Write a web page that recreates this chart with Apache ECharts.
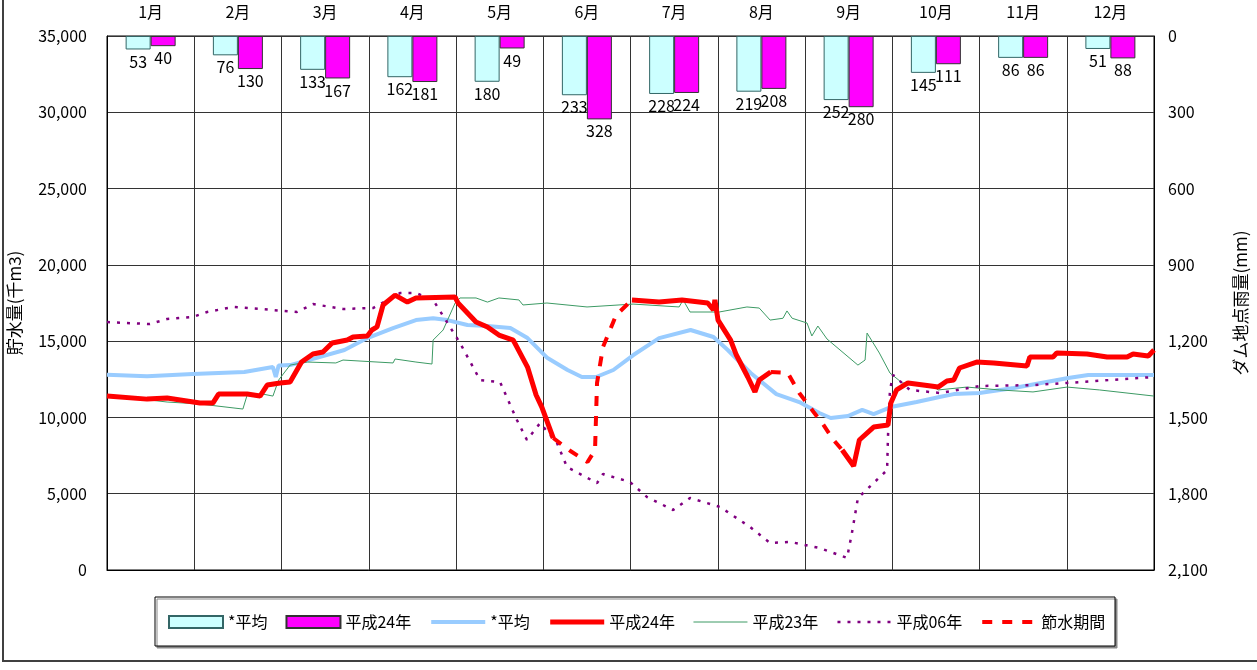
<!DOCTYPE html>
<html>
<head>
<meta charset="utf-8">
<script src="https://cdn.jsdelivr.net/npm/echarts/dist/echarts.min.js"></script>
<style>
  html, body { margin: 0; padding: 0; background: #fff; }
  #chart { width: 1257px; height: 670px; }
</style>
</head>
<body>
<div id="chart"></div>
<script>
// 月
const months = ["1月", "2月", "3月", "4月", "5月", "6月", "7月", "8月", "9月", "10月", "11月", "12月"];
// 月別雨量 (mm)
const rainAvg = [53, 76, 133, 162, 180, 233, 228, 219, 252, 145, 86, 51];
const rainH24 = [40, 130, 167, 181, 49, 328, 224, 208, 280, 111, 86, 88];

// 貯水量 (千m3)  [日, 値]
const storageAvg = [
  [0, 12800], [14, 12700], [30, 12850], [48, 12980], [58, 13300], [59, 12650], [60, 13400],
  [64, 13430], [73, 13890], [83, 14420], [91, 15200], [100, 15860], [108, 16380], [114, 16500],
  [119, 16380], [126, 16060], [133, 15990], [141, 15860], [147, 15200], [154, 13890], [161, 13110],
  [166, 12650], [171, 12650], [177, 13110], [184, 14090], [193, 15200], [204, 15730], [212, 15270],
  [217, 14420], [225, 12910], [234, 11530], [242, 11010], [249, 10290], [253, 9960], [259, 10090],
  [264, 10490], [268, 10220], [274, 10680], [283, 11010], [291, 11340], [296, 11530], [305, 11600],
  [317, 11930], [336, 12580], [343, 12780], [366, 12780]
];
const storageH24a = [
  [0, 11400], [14, 11200], [21, 11270], [32.5, 10940], [37, 10940], [39, 11530], [49, 11530],
  [53.5, 11400], [56, 12120], [60.5, 12260], [64, 12320], [68, 13630], [72, 14160], [75.5, 14290],
  [78.7, 14880], [84, 15070], [86, 15270], [91, 15340], [92.6, 15730], [94.4, 15930], [96.5, 17370],
  [100.7, 18020], [105, 17560], [108, 17830], [121.7, 17890], [122.7, 17500], [129, 16250],
  [133, 15930], [137, 15400], [142, 15070], [147, 13300], [150, 11470], [152, 10680], [156, 8650]
];
const storageH24b = [
  [183.5, 17700], [193, 17560], [201, 17700], [210, 17500], [212, 17040], [212.5, 17700],
  [213.6, 16380], [218, 15070], [220, 14090], [224, 12650], [226.5, 11670], [228, 12450], [232, 12980]
];
const storageH24c = [
  [257, 7860], [261, 6820], [263, 8520], [268, 9370], [273, 9500], [274, 10940], [276, 11800],
  [280, 12260], [288, 12060], [290.5, 11990], [293.6, 12390], [296, 12450], [298, 13240],
  [304, 13630], [310, 13570], [321.6, 13370], [322.6, 13960], [330.7, 13960], [332, 14220],
  [342.6, 14160], [349.6, 13960], [356.6, 13960], [358.7, 14160], [364, 14030], [366, 14420]
];
const savingA = [
  [156, 8650], [162, 7800], [168, 7080], [170.6, 7860], [171.3, 12260], [173.4, 14620],
  [178, 16710], [183.5, 17700]
];
const savingB = [
  [232, 12980], [238, 12910], [242, 11600], [247, 10360], [250, 9630], [254, 8520], [257, 7860]
];
const storageH23 = [
  [0, 11470], [21, 11010], [32.5, 10880], [47.5, 10550], [49, 11470], [54.5, 11530], [58, 11400],
  [60, 12450], [64, 13430], [70, 13630], [80, 13570], [82.5, 13760], [100, 13570], [100.7, 13830],
  [108, 13630], [113.6, 13500], [114, 15070], [117.5, 15730], [121.7, 17500], [123.4, 17830],
  [129, 17830], [133, 17560], [137, 17830], [144, 17700], [145.4, 17370], [153.8, 17500],
  [167.8, 17240], [183.9, 17430], [200, 17240], [201.4, 17700], [203.8, 16910], [214, 16910],
  [223.7, 17240], [228, 17170], [231.8, 16380], [236.3, 16500], [237.7, 16980], [239.5, 16500],
  [244.7, 16190], [246.4, 15340], [248.5, 15990], [251.7, 15140], [262.5, 13430], [265, 13760],
  [265.7, 15530], [270, 14220], [273.7, 12910], [278, 12260], [288.4, 12120], [290.5, 11800],
  [300.6, 11990], [312, 11800], [323.7, 11670], [335.6, 11990], [347, 11800], [366, 11400]
];
const storageH06 = [
  [0, 16250], [15, 16120], [21, 16450], [30, 16580], [35, 16910], [44, 17240], [53.5, 17110],
  [66.4, 16910], [72, 17430], [82.5, 17110], [93, 17170], [102.4, 18150], [108, 18150],
  [114, 17700], [123.4, 14880], [130.4, 12450], [137.4, 12320], [143.3, 9830], [146.8, 8520],
  [151.4, 9630], [157.3, 8320], [160.8, 6750], [171.3, 5700], [173.4, 6290], [182.8, 5770],
  [188.8, 4780], [197.9, 3930], [203.8, 4720], [214.3, 4130], [224.8, 2820], [231.8, 1770],
  [238.8, 1840], [249.2, 1440], [258.7, 790], [260.4, 2420], [262.5, 4720], [270.2, 6100],
  [272.7, 6550], [273, 8720], [273.7, 11800], [274.8, 12780], [280.7, 11800], [291.2, 11600],
  [305.2, 12060], [323.7, 12120], [335.6, 12260], [366, 12650]
];

const font = "'Noto Sans CJK JP', sans-serif";
const chart = echarts.init(document.getElementById("chart"));

function storageLine(name, data, color, width, type, z) {
  return {
    name: name,
    type: "line",
    xAxisIndex: 1,
    yAxisIndex: 0,
    data: data,
    symbol: "none",
    smooth: false,
    z: z,
    lineStyle: { color: color, width: width, type: type },
    itemStyle: { color: color }
  };
}

// 凡例の線アイコン: 記号なし、線幅は系列と同じ
function lineLegend(name) {
  return { name: name, itemStyle: { opacity: 0 }, lineStyle: { width: "inherit" } };
}

const option = {
  animation: false,
  textStyle: { fontFamily: font, color: "#000" },
  graphic: [
    {
      type: "rect",
      z: 0,
      shape: { x: 3, y: -5, width: 1262, height: 666 },
      style: { fill: "none", stroke: "#404040", lineWidth: 2 }
    },
    {
      type: "rect",
      z: 0,
      shape: { x: 155, y: 597, width: 960, height: 49 },
      style: {
        fill: "#fff", stroke: "#000", lineWidth: 1,
        shadowColor: "#888", shadowOffsetX: 2, shadowOffsetY: 2, shadowBlur: 0
      }
    }
  ],
  grid: {
    left: 107, right: 103, top: 36, bottom: 100,
    show: true, borderColor: "#000", borderWidth: 1,
    outerBoundsMode: "none"
  },
  legend: {
    left: 163,
    top: 609,
    itemWidth: 54,
    itemHeight: 12,
    itemGap: 18,
    textStyle: { fontSize: 16, fontFamily: font, color: "#000" },
    formatter: name => name.trim(),
    data: [
      { name: "*平均", icon: "rect" },
      { name: "平成24年", icon: "rect" },
      lineLegend("*平均 "),
      lineLegend("平成24年 "),
      lineLegend("平成23年"),
      lineLegend("平成06年"),
      lineLegend("節水期間")
    ]
  },
  xAxis: [
    {
      type: "category",
      position: "top",
      data: months,
      axisTick: { show: false },
      axisLine: { lineStyle: { color: "#000" } },
      axisLabel: { fontSize: 16, color: "#000", margin: 16, fontFamily: font },
      splitLine: { show: true, lineStyle: { color: "#333", width: 1 } }
    },
    {
      type: "value",
      min: 0,
      max: 366,
      show: false
    }
  ],
  yAxis: [
    {
      type: "value",
      min: 0,
      max: 35000,
      interval: 5000,
      position: "left",
      name: "貯水量(千m3)",
      nameLocation: "middle",
      nameGap: 84,
      nameRotate: 90,
      nameTextStyle: { fontSize: 17, color: "#000", fontFamily: font },
      axisLine: { show: true, lineStyle: { color: "#000" } },
      axisTick: { show: false },
      axisLabel: { fontSize: 16, color: "#000", margin: 20, fontFamily: font },
      splitLine: { show: true, lineStyle: { color: "#333", width: 1 } }
    },
    {
      type: "value",
      min: 0,
      max: 2100,
      interval: 300,
      inverse: true,
      position: "right",
      name: "ダム地点雨量(mm)",
      nameLocation: "middle",
      nameGap: 78,
      nameRotate: 90,
      nameTextStyle: { fontSize: 17, color: "#000", fontFamily: font },
      axisLine: { show: true, lineStyle: { color: "#000" } },
      axisTick: { show: false },
      axisLabel: { fontSize: 16, color: "#000", margin: 14, fontFamily: font },
      splitLine: { show: false }
    }
  ],
  series: [
    {
      name: "*平均",
      type: "bar",
      xAxisIndex: 0,
      yAxisIndex: 1,
      data: rainAvg,
      barWidth: 25,
      barGap: "0%",
      itemStyle: { color: "#ccffff", borderColor: "#336666", borderWidth: 1 },
      label: { show: true, position: "bottom", distance: 4, fontSize: 16, color: "#000", fontFamily: font }
    },
    {
      name: "平成24年",
      type: "bar",
      xAxisIndex: 0,
      yAxisIndex: 1,
      data: rainH24,
      barWidth: 25,
      barGap: "0%",
      itemStyle: { color: "#ff00ff", borderColor: "#333", borderWidth: 1 },
      label: { show: true, position: "bottom", distance: 4, fontSize: 16, color: "#000", fontFamily: font }
    },
    storageLine("*平均 ", storageAvg, "#99ccff", 4, "solid", 3),
    storageLine("平成23年", storageH23, "#3c9a64", 1, "solid", 4),
    storageLine("平成06年", storageH06, "#800080", 2.5, [3, 7], 4),
    storageLine("平成24年 ", storageH24a, "#ff0000", 5, "solid", 6),
    storageLine("平成24年 ", storageH24b, "#ff0000", 5, "solid", 6),
    storageLine("平成24年 ", storageH24c, "#ff0000", 5, "solid", 6),
    storageLine("節水期間", savingA, "#ff0000", 4, [10, 10], 5),
    storageLine("節水期間", savingB, "#ff0000", 4, [10, 10], 5)
  ]
};

chart.setOption(option);
</script>
</body>
</html>
